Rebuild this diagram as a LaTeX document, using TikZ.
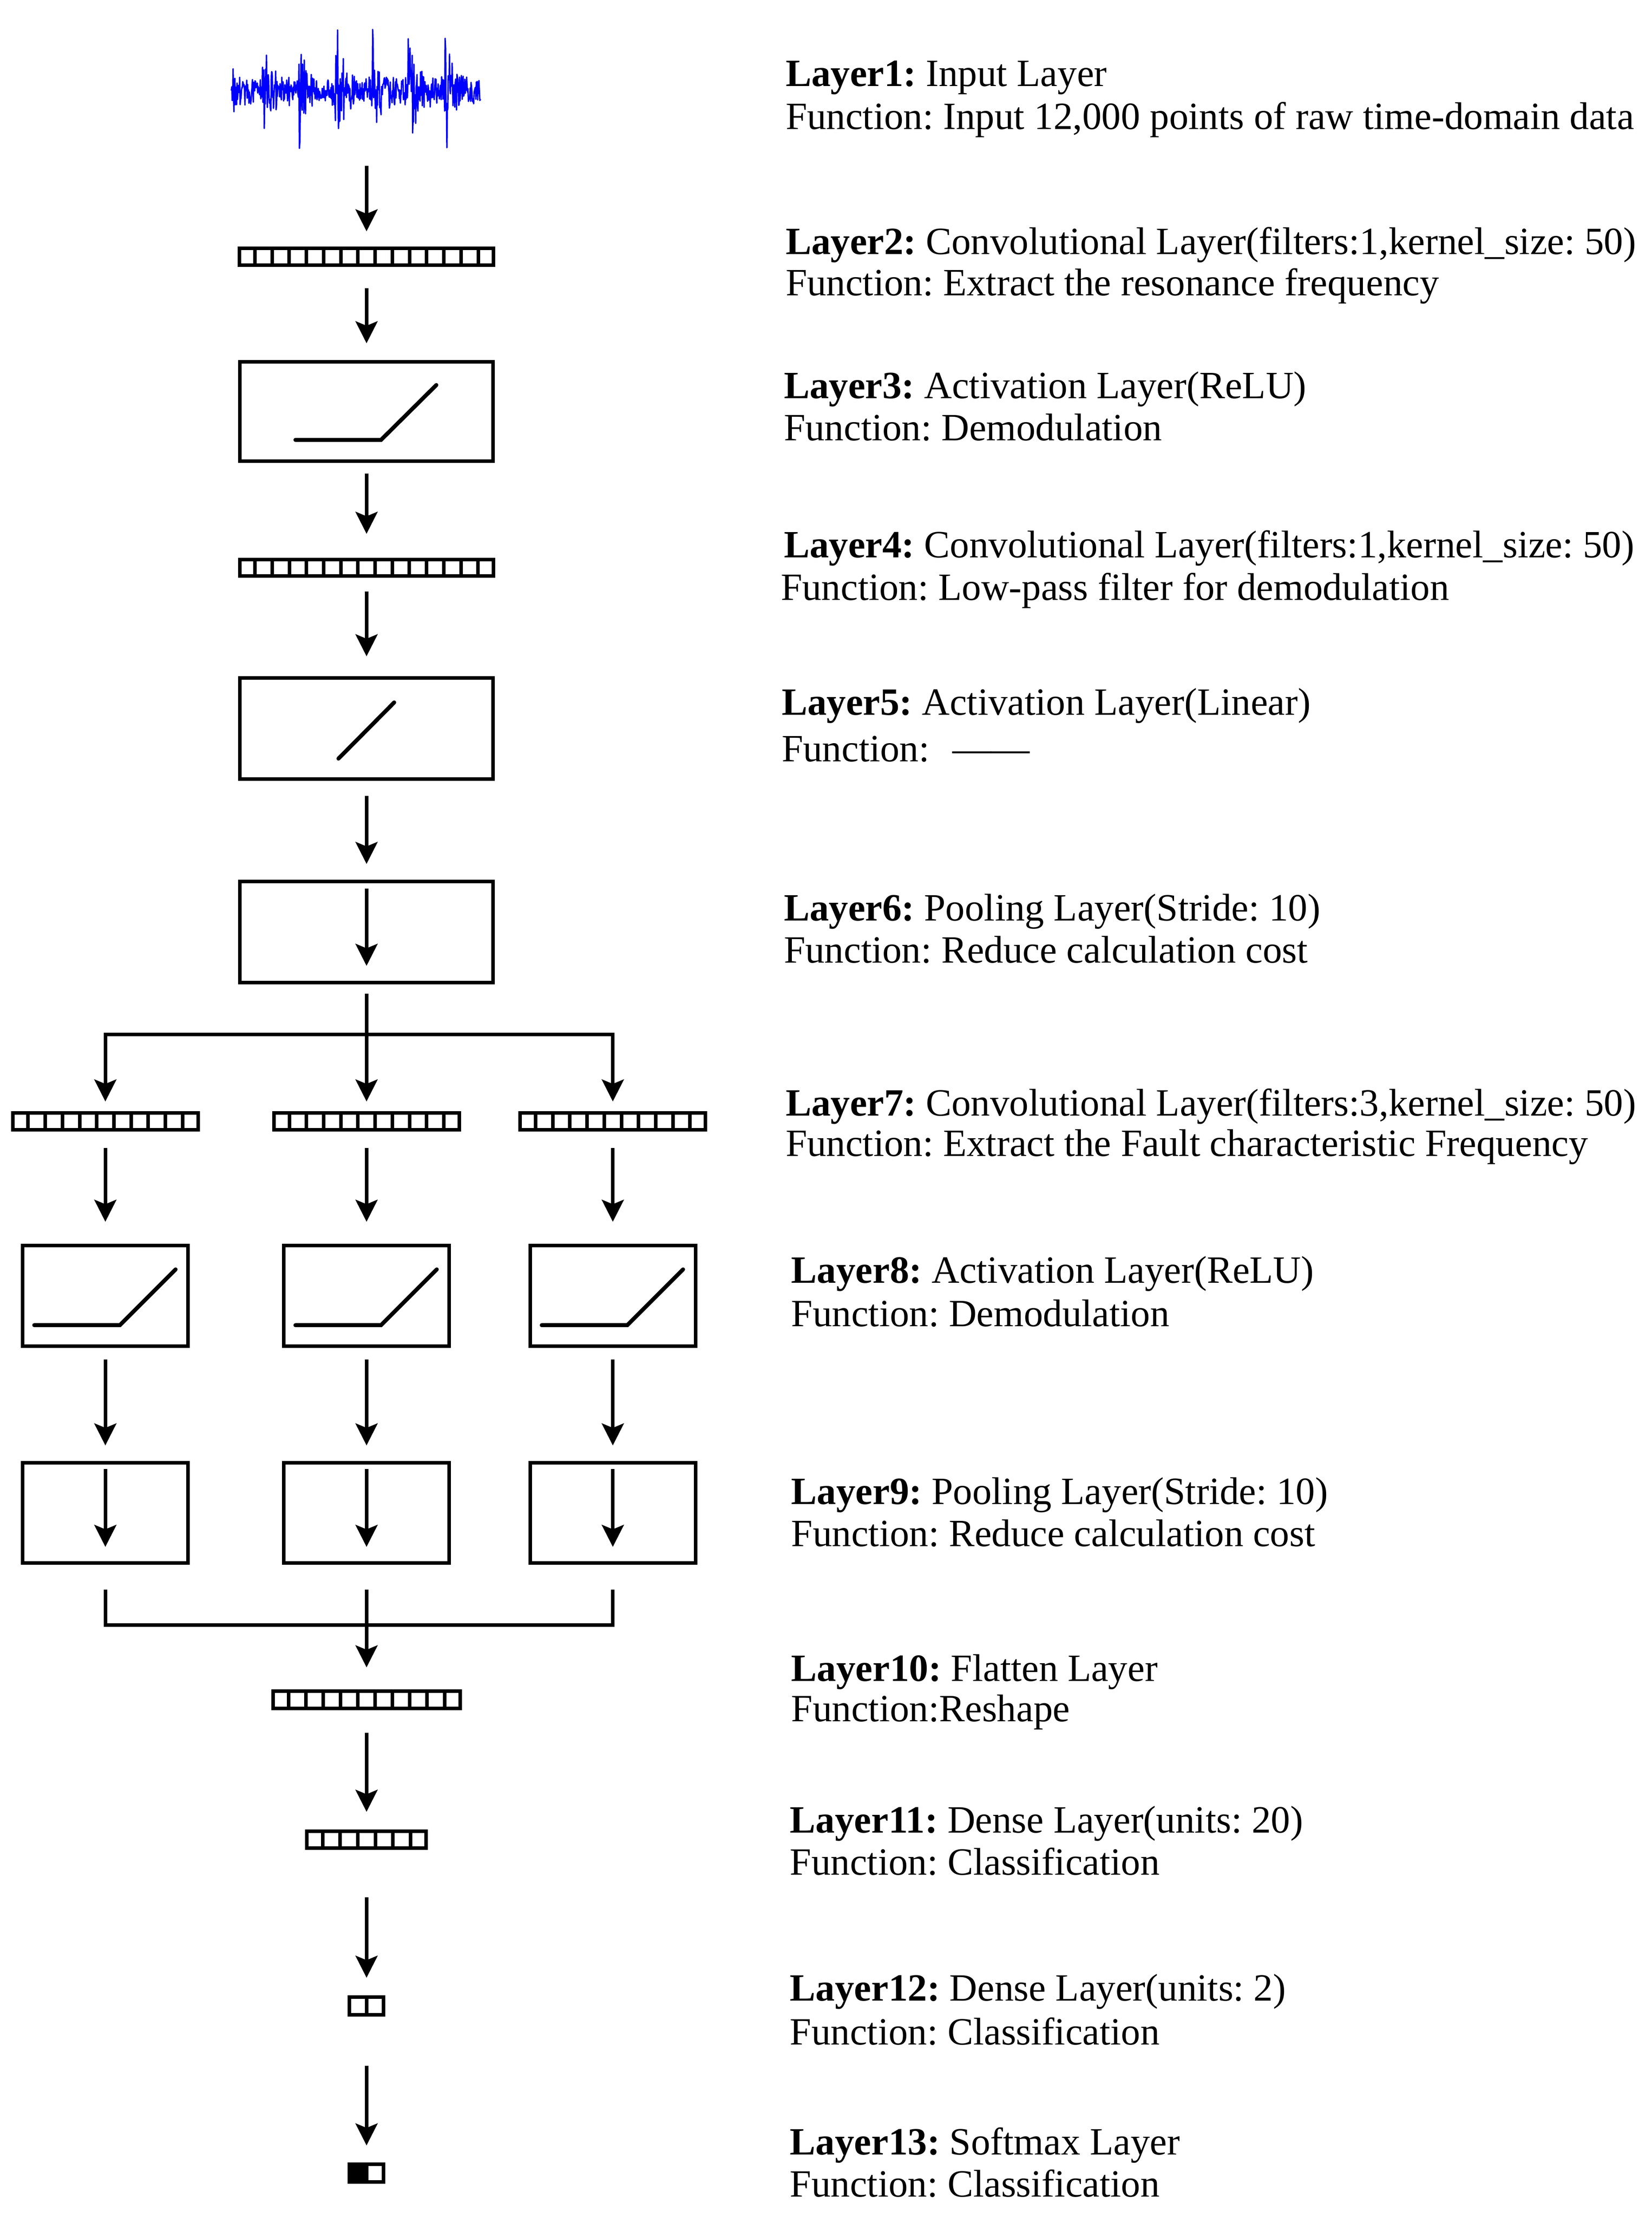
\documentclass[tikz,border=0pt]{standalone}
\usepackage{fontspec}
\setmainfont{Liberation Serif}
\usetikzlibrary{arrows.meta,calc}

\begin{document}
\begin{tikzpicture}[
  arr/.style={line width=2.3pt, -{Stealth[length=5mm,width=5mm,inset=1mm]}},
  twoarr/.style={line width=2.3pt, {Stealth[length=5mm,width=5mm,inset=1mm]}-{Stealth[length=5mm,width=5mm,inset=1mm]}},
  bar/.style={line width=2.3pt},
  strip/.style={draw, line width=2.3pt, minimum height=0.38cm, inner sep=0pt},
  layerbox/.style={draw, line width=2.3pt, minimum width=5.77cm, minimum height=2.26cm, inner sep=0pt},
  smallbox/.style={draw, line width=2.3pt, minimum width=3.77cm, minimum height=2.29cm, inner sep=0pt},
  curve/.style={line width=2.6pt, line cap=round},
  lbl/.style={anchor=base west, inner sep=0pt, font=\fontsize{25}{27}\selectfont\frenchspacing}
]
\useasboundingbox (0,0) rectangle (37.63,-50.50);

% Input signal
\node[minimum width=5.68cm, minimum height=3.30cm, inner sep=0pt] (sig) at (8.11,-1.94) {};
\pgfmathsetseed{42}
\draw[blue, line width=0.9pt, line join=round] (5.27,-2.06)
  \foreach \i in {1,...,568} { -- ({5.27+\i/100},{-2.06+rand*(0.36+1.65*exp(-mod(\i+12,83)/13))*(0.45+0.55*rnd)}) };

% Main column
\node[strip, minimum width=5.79cm] (c2) at (8.35,-5.85) {};
\node[layerbox] (b3) at (8.35,-9.37) {};
\node[strip, minimum width=5.78cm, minimum height=0.37cm] (c4) at (8.35,-12.935) {};
\node[layerbox, minimum height=2.31cm] (b5) at (8.35,-16.595) {};
\node[layerbox, minimum height=2.30cm] (b6) at (8.35,-21.23) {};

% Three branches
\node[strip, minimum width=4.22cm] (c7a) at (2.40,-25.54) {};
\node[strip, minimum width=4.22cm] (c7b) at (8.35,-25.54) {};
\node[strip, minimum width=4.22cm] (c7c) at (13.96,-25.54) {};
\node[smallbox] (b8a) at (2.40,-29.515) {};
\node[smallbox] (b8b) at (8.35,-29.515) {};
\node[smallbox] (b8c) at (13.96,-29.515) {};
\node[smallbox] (b9a) at (2.40,-34.46) {};
\node[smallbox] (b9b) at (8.35,-34.46) {};
\node[smallbox] (b9c) at (13.96,-34.46) {};

% Bottom column
\node[strip, minimum width=4.26cm, minimum height=0.39cm] (c10) at (8.35,-38.715) {};
\node[strip, minimum width=2.72cm, minimum height=0.39cm] (c11) at (8.35,-41.905) {};
\node[strip, minimum width=0.78cm, minimum height=0.40cm] (c12) at (8.35,-45.69) {};
\node[strip, minimum width=0.78cm, minimum height=0.40cm] (c13) at (8.35,-49.50) {};
\fill (c13.south west) rectangle (c13.north);

% Cells of the strips
\foreach \s/\m/\n in {c2/14/15, c4/14/15, c7a/10/11, c7b/10/11, c7c/10/11, c10/10/11, c11/6/7, c12/1/2, c13/1/2}
  \foreach \k in {1,...,\m}
    \draw[line width=2.3pt] ($(\s.south west)!\k/\n!(\s.south east)$) -- ($(\s.north west)!\k/\n!(\s.north east)$);

% Activation curves
\draw[curve] ($(b3)+(-1.62,-0.65)$) -- ++(1.95,0) -- ++(1.26,1.25);
\draw[curve] ($(b5)+(-0.64,-0.685)$) -- ++(1.27,1.28);
\foreach \col in {a,b,c}
  \draw[curve] ($(b8\col)+(-1.62,-0.67)$) -- ++(1.95,0) -- ++(1.27,1.27);

% Arrows of the main column
\draw[arr, shorten <=0.18cm, shorten >=0.35cm] (sig.south -| c2.north) -- (c2.north);
\draw[arr, shorten <=0.48cm, shorten >=0.38cm] (c2) -- (b3);
\draw[arr, shorten <=0.25cm, shorten >=0.55cm] (b3) -- (c4);
\draw[arr, shorten <=0.31cm, shorten >=0.45cm] (c4) -- (b5);
\draw[arr, shorten <=0.34cm, shorten >=0.36cm] (b5) -- (b6);
\draw[arr] ([yshift=-0.2cm]b6.north) -- ([yshift=0.42cm]b6.south);

% Split into three
\coordinate (split) at (8.35,-23.56);
\draw[arr, shorten <=0.21cm, shorten >=0.22cm] (b6) -- (c7b);
\draw[twoarr, shorten <=0.22cm, shorten >=0.22cm] (c7a.north) |- (split) -| (c7c.north);

\foreach \col in {a,b,c} {
  \draw[arr, shorten <=0.38cm, shorten >=0.50cm] (c7\col) -- (b8\col);
  \draw[arr, shorten <=0.27cm, shorten >=0.35cm] (b8\col) -- (b9\col);
  \draw[arr] ([yshift=-0.19cm]b9\col.north) -- ([yshift=0.41cm]b9\col.south);
}

% Merge
\coordinate (merge) at (8.35,-37.02);
\draw[bar, shorten <=0.56cm, shorten >=0.56cm] (b9a.south) |- (merge) -| (b9c.south);
\draw[arr, shorten <=0.56cm, shorten >=0.50cm] (b9b) -- (c10);
\draw[arr, shorten <=0.52cm, shorten >=0.40cm] (c10) -- (c11);
\draw[arr, shorten <=1.08cm, shorten >=0.40cm] (c11) -- (c12);
\draw[arr, shorten <=1.12cm, shorten >=0.39cm] (c12) -- (c13);

% Labels
\node[lbl] (lay1) at (17.89,-1.96) {\textbf{Layer1:} Input Layer};
\node[lbl] (fun1) at (17.89,-2.94) {Function: Input 12,000 points of raw time-domain data};
\node[lbl] (lay2) at (17.89,-5.79) {\textbf{Layer2:} Convolutional Layer(filters:1,kernel\_size: 50)};
\node[lbl] (fun2) at (17.89,-6.73) {Function: Extract the resonance frequency};
\node[lbl] (lay3) at (17.85,-9.07) {\textbf{Layer3:} Activation Layer(ReLU)};
\node[lbl] (fun3) at (17.85,-10.03) {Function: Demodulation};
\node[lbl] (lay4) at (17.85,-12.70) {\textbf{Layer4:} Convolutional Layer(filters:1,kernel\_size: 50)};
\node[lbl] (fun4) at (17.78,-13.67) {Function: Low-pass filter for demodulation};
\node[lbl] (lay5) at (17.80,-16.29) {\textbf{Layer5:} Activation Layer(Linear)};
\node[lbl] (fun5) at (17.80,-17.35) {Function:\hspace{0.6em}——};
\node[lbl] (lay6) at (17.85,-20.97) {\textbf{Layer6:} Pooling Layer(Stride: 10)};
\node[lbl] (fun6) at (17.85,-21.93) {Function: Reduce calculation cost};
\node[lbl] (lay7) at (17.89,-25.42) {\textbf{Layer7:} Convolutional Layer(filters:3,kernel\_size: 50)};
\node[lbl] (fun7) at (17.89,-26.34) {Function: Extract the Fault characteristic Frequency};
\node[lbl] (lay8) at (18.02,-29.22) {\textbf{Layer8:} Activation Layer(ReLU)};
\node[lbl] (fun8) at (18.02,-30.21) {Function: Demodulation};
\node[lbl] (lay9) at (18.02,-34.26) {\textbf{Layer9:} Pooling Layer(Stride: 10)};
\node[lbl] (fun9) at (18.02,-35.22) {Function: Reduce calculation cost};
\node[lbl] (lay10) at (18.02,-38.29) {\textbf{Layer10:} Flatten Layer};
\node[lbl] (fun10) at (18.02,-39.21) {Function:Reshape};
\node[lbl] (lay11) at (17.99,-41.75) {\textbf{Layer11:} Dense Layer(units: 20)};
\node[lbl] (fun11) at (17.99,-42.71) {Function: Classification};
\node[lbl] (lay12) at (17.99,-45.58) {\textbf{Layer12:} Dense Layer(units: 2)};
\node[lbl] (fun12) at (17.99,-46.58) {Function: Classification};
\node[lbl] (lay13) at (17.99,-49.08) {\textbf{Layer13:} Softmax Layer};
\node[lbl] (fun13) at (17.99,-50.04) {Function: Classification};

\end{tikzpicture}
\end{document}
